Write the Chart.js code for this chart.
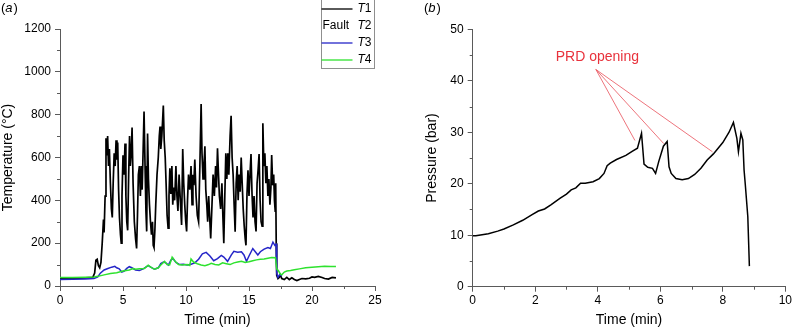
<!DOCTYPE html>
<html>
<head>
<meta charset="utf-8">
<script src="https://cdn.jsdelivr.net/npm/chart.js@4.4.0/dist/chart.umd.min.js"></script>
<style>
  html, body { margin: 0; padding: 0; background: #fff; }
  #wrap { position: relative; width: 794px; height: 329px; }
  #wrap canvas { position: absolute; left: 0; top: 0; }
</style>
</head>
<body>
<div id="wrap">
  <canvas id="tempChart" width="794" height="329"></canvas>
  <canvas id="pressChart" width="794" height="329"></canvas>
</div>
<script>
// (a) temperature (time in min, temp in degC)
const t1Time = [0, 1, 2, 2.6, 2.75, 2.85, 2.95, 3.05, 3.15, 3.25,
  3.35, 3.45, 3.5, 3.58, 3.65, 3.72, 3.78, 3.85, 3.92, 4.0,
  4.08, 4.15, 4.22, 4.3, 4.38, 4.45, 4.52, 4.58, 4.65, 4.72,
  4.8, 4.86, 4.92, 5.0, 5.08, 5.16, 5.23, 5.3, 5.37, 5.45,
  5.52, 5.58, 5.65, 5.72, 5.8, 5.9, 6.0, 6.08, 6.15, 6.22,
  6.3, 6.38, 6.45, 6.52, 6.6, 6.67, 6.75, 6.82, 6.88, 6.95,
  7.02, 7.1, 7.18, 7.26, 7.34, 7.4, 7.46, 7.53, 7.6, 7.7,
  7.8, 7.88, 7.94, 8.0, 8.08, 8.15, 8.2, 8.27, 8.35, 8.42,
  8.5, 8.58, 8.65, 8.72, 8.8, 8.88, 8.95, 9.02, 9.1, 9.2,
  9.28, 9.36, 9.45, 9.55, 9.65, 9.74, 9.82, 9.9, 9.98, 10.05,
  10.12, 10.2, 10.3, 10.4, 10.48, 10.55, 10.62, 10.7, 10.8, 10.9,
  11.0, 11.1, 11.2, 11.27, 11.35, 11.42, 11.5, 11.57, 11.65, 11.72,
  11.8, 11.88, 11.96, 12.05, 12.15, 12.25, 12.35, 12.42, 12.5, 12.58,
  12.65, 12.75, 12.85, 12.93, 13.0, 13.08, 13.16, 13.24, 13.32, 13.4,
  13.5, 13.58, 13.66, 13.74, 13.82, 13.9, 13.98, 14.06, 14.14, 14.22,
  14.3, 14.38, 14.46, 14.54, 14.62, 14.7, 14.76, 14.84, 14.92, 15.0,
  15.08, 15.16, 15.24, 15.32, 15.4, 15.48, 15.56, 15.64, 15.72, 15.8,
  15.88, 15.96, 16.04, 16.1, 16.18, 16.26, 16.34, 16.42, 16.5, 16.58,
  16.66, 16.74, 16.8, 16.88, 16.96, 17.02, 17.08, 17.12, 17.16, 17.2,
  17.3, 17.4, 17.5, 17.6, 17.8, 18.0, 18.2, 18.4, 18.6, 18.8,
  19.0, 19.2, 19.5, 19.8, 20.0, 20.2, 20.5, 20.8, 21.0, 21.3, 21.6, 21.9];
const t1Temp = [35, 36, 38, 40, 60, 120, 125, 95, 85, 110,
  200, 310, 250, 420, 690, 610, 700, 560, 640, 480,
  360, 320, 480, 620, 560, 680, 590, 670, 450, 320,
  240, 200, 420, 610, 520, 665, 420, 300, 260, 520,
  700, 560, 620, 740, 480, 300, 220, 175, 330, 520,
  560, 420, 560, 450, 640, 815, 560, 350, 255, 712,
  500, 380, 300, 240, 300, 190, 180, 260, 380, 520,
  600, 700, 745, 640, 700, 780, 843, 680, 600, 480,
  330, 270, 420, 550, 430, 560, 380, 460, 400, 560,
  420, 350, 520, 400, 285, 640, 480, 380, 300, 255,
  400, 520, 450, 560, 380, 520, 470, 590, 420, 330,
  300, 560, 850, 620, 500, 560, 652, 450, 380, 300,
  420, 320, 222, 360, 520, 420, 560, 460, 643, 520,
  420, 360, 480, 320, 200, 420, 620, 500, 620, 520,
  700, 795, 600, 520, 380, 253, 480, 560, 400, 520,
  440, 600, 480, 360, 280, 220, 190, 430, 540, 420,
  520, 616, 430, 320, 420, 300, 255, 480, 540, 616,
  400, 300, 280, 760, 560, 620, 480, 560, 420, 500,
  380, 460, 612, 470, 520, 400, 350, 480, 200, 50,
  35, 40, 52, 35, 30, 40, 30, 38, 30, 25,
  30, 35, 33, 36, 42, 40, 45, 40, 35, 32, 40, 38];

const t3Time = [0, 1, 2, 2.7, 3.0, 3.2, 3.5, 3.8, 4.1, 4.35,
  4.5, 4.7, 4.9, 5.1, 5.3, 5.5, 5.7, 6.0, 6.3, 6.6,
  7.0, 7.2, 7.5, 7.8, 8.0, 8.2, 8.4, 8.6, 8.8, 8.95,
  9.2, 9.5, 9.8, 10.1, 10.4, 10.7, 11.0, 11.3, 11.6, 11.9,
  12.2, 12.5, 12.8, 13.0, 13.3, 13.6, 13.8, 14.1, 14.4, 14.6,
  14.8, 15.0, 15.3, 15.5, 15.7, 15.9, 16.2, 16.5, 16.7, 16.9,
  17.05, 17.15, 17.2, 17.3, 17.45, 17.6];
const t3Temp = [30, 31, 33, 35, 42, 60, 75, 82, 88, 92,
  85, 80, 65, 70, 82, 90, 85, 75, 72, 80,
  95, 88, 78, 85, 105, 112, 108, 98, 120, 130,
  110, 100, 102, 98, 102, 108, 125, 150, 157, 140,
  118, 128, 143, 135, 115, 145, 162, 158, 160, 145,
  115, 140, 175, 160, 145, 160, 172, 180, 175, 205,
  190, 195, 60, 40, 55, 45];

const t4Time = [0, 1, 2, 2.7, 3.0, 3.5, 4.0, 4.5, 5.0, 5.5,
  5.8, 6.0, 6.3, 6.7, 7.0, 7.2, 7.5, 7.8, 8.0, 8.3,
  8.5, 8.7, 8.9, 9.1, 9.4, 9.7, 10.1, 10.3, 10.4, 10.6,
  10.9, 11.2, 11.5, 11.8, 12.0, 12.3, 12.6, 12.9, 13.2, 13.5,
  13.8, 14.1, 14.4, 14.7, 15.0, 15.3, 15.6, 15.9, 16.2, 16.5,
  16.8, 17.1, 17.2, 17.35, 17.5, 17.6, 17.8, 18.0, 18.3, 18.6,
  19.0, 19.5, 20.0, 20.5, 21.0, 21.5, 21.9];
const t4Temp = [40, 40, 41, 42, 45, 52, 58, 62, 70, 75,
  82, 78, 80, 82, 97, 88, 78, 85, 98, 115,
  100, 98, 135, 118, 100, 98, 100, 96, 126, 112,
  104, 98, 95, 100, 106, 100, 98, 108, 104, 100,
  108, 112, 115, 110, 113, 118, 122, 125, 126, 130,
  133, 132, 80, 70, 55, 52, 65, 70, 72, 76,
  80, 85, 88, 90, 92, 91, 91];

// (b) pressure (time in min, bar)
const pTime = [0, 0.1, 0.3, 0.5, 0.8, 1.0, 1.3, 1.6, 1.9, 2.1,
  2.3, 2.5, 2.8, 3.0, 3.15, 3.3, 3.45, 3.6, 3.85, 4.05,
  4.2, 4.3, 4.4, 4.6, 4.9, 5.1, 5.27, 5.4, 5.48, 5.6,
  5.75, 5.85, 5.95, 6.1, 6.22, 6.28, 6.35, 6.5, 6.7, 6.9,
  7.1, 7.3, 7.5, 7.7, 8.0, 8.2, 8.34, 8.45, 8.5, 8.58,
  8.64, 8.68, 8.72, 8.8, 8.85];
const pBar = [9.9, 9.9, 10.1, 10.3, 10.8, 11.2, 12.0, 12.9, 14.0, 14.7,
  15.1, 15.9, 17.2, 18.0, 18.8, 19.2, 20.1, 20.1, 20.4, 21.0,
  22.0, 23.5, 24.0, 24.7, 25.5, 26.3, 26.9, 29.8, 23.8, 23.2,
  23.0, 22.0, 24.3, 27.3, 28.2, 23.3, 22.0, 21.0, 20.8, 21.0,
  21.8, 23.0, 24.6, 25.8, 28.0, 30.0, 31.9, 28.8, 26.2, 29.8,
  28.5, 22.7, 19.8, 13.6, 4.0];

// "PRD opening" pointer: first entry is the label end, the rest are the three openings
const prdTime = [3.94, 5.19, 6.11, 7.67];
const prdBar = [42.2, 28.4, 27.8, 26.2];
const prdLabel = 'PRD opening';

const legendNames = ['1', '2', '3', '4'];
const seriesColors = ['#000000', null, '#2626c8', '#2ee22e'];

const tempMinor = [100, 300, 500, 700, 900, 1100];
const timeMinorA = [2.5, 7.5, 12.5, 17.5, 22.5];
const pressMinor = [5, 15, 25, 35, 45];
const timeMinorB = [1, 3, 5, 7, 9];

const axisColor = '#5a5a5a';
Chart.defaults.font.family = "'Liberation Sans', Arial, sans-serif";
Chart.defaults.font.size = 12;
Chart.defaults.color = '#000';

function toPoints(xs, ys) {
  let pts = [];
  for (let i = 0; i < xs.length; i++) {
    pts.push({ x: xs[i], y: ys[i] });
  }
  return pts;
}

function crisp(v) {
  return Math.round(v) + 0.5;
}

// short minor ticks between the labelled ones
const minorTicks = {
  id: 'minorTicks',
  afterDraw(chart, args, opts) {
    const ctx = chart.ctx;
    const area = chart.chartArea;
    ctx.save();
    ctx.strokeStyle = axisColor;
    ctx.lineWidth = 1;
    ctx.beginPath();
    opts.x.forEach(function (v) {
      let px = crisp(chart.scales.x.getPixelForValue(v));
      ctx.moveTo(px, area.bottom);
      ctx.lineTo(px, area.bottom + 3);
    });
    opts.y.forEach(function (v) {
      let py = crisp(chart.scales.y.getPixelForValue(v));
      ctx.moveTo(area.left - 3, py);
      ctx.lineTo(area.left, py);
    });
    ctx.stroke();
    ctx.restore();
  }
};

// "(a)" / "(b)" panel letters
const panelLetter = {
  id: 'panelLetter',
  afterDraw(chart, args, opts) {
    const ctx = chart.ctx;
    ctx.save();
    ctx.fillStyle = '#000';
    ctx.textBaseline = 'alphabetic';
    let x = opts.x;
    ctx.font = "13px 'Liberation Sans', Arial, sans-serif";
    ctx.fillText('(', x, 12);
    x += ctx.measureText('(').width;
    ctx.font = "italic 13px 'Liberation Sans', Arial, sans-serif";
    ctx.fillText(opts.letter, x, 12);
    x += ctx.measureText(opts.letter).width;
    ctx.font = "13px 'Liberation Sans', Arial, sans-serif";
    ctx.fillText(')', x + 1, 12);
    ctx.restore();
  }
};

// legend box in the top right of (a), with the faulty T2 entry
const legendBox = {
  id: 'legendBox',
  afterDraw(chart) {
    const ctx = chart.ctx;
    const right = chart.chartArea.right - 1.5;
    const left = right - 53;
    ctx.save();
    ctx.strokeStyle = '#8f8f8f';
    ctx.lineWidth = 1;
    ctx.strokeRect(Math.round(left) + 0.5, -2, 53, 70.5);
    for (let i = 0; i < legendNames.length; i++) {
      let y = 9 + i * 17;
      if (seriesColors[i]) {
        ctx.strokeStyle = seriesColors[i];
        ctx.lineWidth = 1.3;
        ctx.beginPath();
        ctx.moveTo(left + 1, y);
        ctx.lineTo(left + 32, y);
        ctx.stroke();
      } else {
        ctx.fillStyle = '#000';
        ctx.font = "12px 'Liberation Sans', Arial, sans-serif";
        ctx.textBaseline = 'middle';
        ctx.fillText('Fault', left + 2, y);
      }
      ctx.fillStyle = '#000';
      ctx.textBaseline = 'middle';
      ctx.font = "italic 12px 'Liberation Sans', Arial, sans-serif";
      let tx = left + 37;
      ctx.fillText('T', tx, y);
      tx += ctx.measureText('T').width;
      ctx.font = "12px 'Liberation Sans', Arial, sans-serif";
      ctx.fillText(legendNames[i], tx, y);
    }
    ctx.restore();
  }
};

// red label with thin pointer lines in (b)
const prdNote = {
  id: 'prdNote',
  afterDraw(chart) {
    const ctx = chart.ctx;
    const xs = chart.scales.x;
    const ys = chart.scales.y;
    let x0 = xs.getPixelForValue(prdTime[0]);
    let y0 = ys.getPixelForValue(prdBar[0]);
    ctx.save();
    ctx.strokeStyle = '#e8505a';
    ctx.lineWidth = 0.8;
    ctx.beginPath();
    for (let i = 1; i < prdTime.length; i++) {
      ctx.moveTo(x0, y0);
      ctx.lineTo(xs.getPixelForValue(prdTime[i]), ys.getPixelForValue(prdBar[i]));
    }
    ctx.stroke();
    ctx.fillStyle = '#e8323c';
    ctx.font = "14px 'Liberation Sans', Arial, sans-serif";
    ctx.textAlign = 'center';
    ctx.textBaseline = 'alphabetic';
    ctx.fillText(prdLabel, x0 + 1.5, y0 - 8);
    ctx.restore();
  }
};

function axisOpts(min, max, step, title, size, titlePad, fit) {
  return {
    type: 'linear',
    min: min,
    max: max,
    ticks: {
      stepSize: step,
      padding: fit.pad,
      color: '#000',
      font: { size: 12 },
      callback: function (value) {
        return String(value);
      }
    },
    grid: { drawOnChartArea: false, tickLength: 5, color: axisColor },
    border: { color: axisColor, width: 1 },
    title: { display: true, text: title, color: '#000', font: { size: 14 }, padding: titlePad },
    afterFit: function (scale) {
      if (scale.isHorizontal()) {
        scale.height = size;
      } else {
        scale.width = size;
      }
    }
  };
}

const baseOpts = {
  responsive: false,
  animation: false,
  devicePixelRatio: 1,
  parsing: false,
  normalized: true,
  elements: { point: { radius: 0 }, line: { tension: 0, borderWidth: 1.5 } }
};

new Chart(document.getElementById('tempChart'), {
  type: 'line',
  data: {
    datasets: [
      { label: 'T4', data: toPoints(t4Time, t4Temp), borderColor: seriesColors[3] },
      { label: 'T3', data: toPoints(t3Time, t3Temp), borderColor: seriesColors[2] },
      { label: 'T1', data: toPoints(t1Time, t1Temp), borderColor: seriesColors[0], borderWidth: 1.7 }
    ]
  },
  options: Object.assign({}, baseOpts, {
    layout: { padding: { left: 0, right: 419, top: 29, bottom: 0 } },
    plugins: {
      legend: { display: false },
      tooltip: { enabled: false },
      minorTicks: { x: timeMinorA, y: tempMinor },
      panelLetter: { x: 1, letter: 'a' }
    },
    scales: {
      x: axisOpts(0, 25, 5, 'Time (min)', 43, { top: 0, bottom: 0 }, { pad: 2 }),
      y: axisOpts(0, 1200, 200, 'Temperature (\u00B0C)', 60, { top: 0, bottom: 0 }, { pad: 4 })
    }
  }),
  plugins: [minorTicks, panelLetter, legendBox]
});

new Chart(document.getElementById('pressChart'), {
  type: 'line',
  data: {
    datasets: [
      { label: 'Pressure', data: toPoints(pTime, pBar), borderColor: '#000000' }
    ]
  },
  options: Object.assign({}, baseOpts, {
    layout: { padding: { left: 412.7, right: 6.7, top: 29.3, bottom: 0 } },
    plugins: {
      legend: { display: false },
      tooltip: { enabled: false },
      minorTicks: { x: timeMinorB, y: pressMinor },
      panelLetter: { x: 424, letter: 'b' }
    },
    scales: {
      x: axisOpts(0, 10, 2, 'Time (min)', 42.3, { top: 0, bottom: 0 }, { pad: 2 }),
      y: axisOpts(0, 50, 10, 'Pressure (bar)', 60, { top: 11.4, bottom: 0 }, { pad: 4 })
    }
  }),
  plugins: [minorTicks, panelLetter, prdNote]
});
</script>
</body>
</html>
